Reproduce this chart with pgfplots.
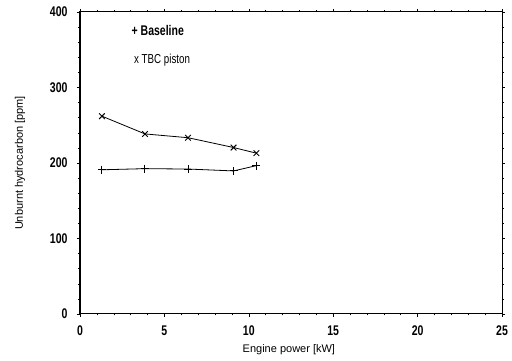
\documentclass[border=0pt]{standalone}
\usepackage{pgfplots}
\pgfplotsset{compat=1.18}
\usepackage{fontspec}
\setmainfont{Liberation Sans}
\newfontfamily\condfont[FakeStretch=0.75]{Liberation Sans}
\begin{document}
\begin{tikzpicture}
\begin{axis}[name=ax,
  scale only axis, width=422pt, height=302pt,
  xmin=0, xmax=25, ymin=0, ymax=400,
  xtick={0,5,10,15,20,25}, ytick={0,100,200,300,400},
  minor x tick num=4, minor y tick num=4,
  tick align=outside, major tick length=3pt, minor tick length=1.5pt,
  axis line style={line width=1pt},
  tick style={black, line width=0.5pt},
  /pgf/number format/assume math mode=true,
  ticklabel style={font=\condfont\fontsize{14}{15}\selectfont\bfseries},
  xticklabel style={yshift=-5pt},
  yticklabel style={xshift=-6pt},
  xlabel={Engine power [kW]}, ylabel={Unburnt hydrocarbon [ppm]},
  label style={font=\fontsize{11}{12}\selectfont},
  xlabel style={at={(axis description cs:0.495,-0.119)}, anchor=center},
  ylabel style={at={(axis description cs:-0.142,0.5)}, anchor=center},
]
\addplot[black, line width=0.8pt, mark=+, mark size=4pt, mark options={line width=1pt}]
  coordinates {(1.3,191) (3.85,192.5) (6.4,192) (9.1,189.5) (10.45,196.5)};
\addplot[black, line width=0.8pt, mark=x, mark size=4pt, mark options={line width=0.9pt}]
  coordinates {(1.3,262) (3.85,238.5) (6.4,233.5) (9.1,220.5) (10.45,213)};
\node[anchor=west, font=\condfont\fontsize{14}{15}\selectfont\bfseries] at (axis cs:2.85,376) {+ Baseline};
\node[anchor=west, font=\condfont\fontsize{13}{14}\selectfont] at (axis cs:3.0,336) {x TBC piston};
\end{axis}
\path[use as bounding box] ([xshift=-80pt,yshift=-46pt]ax.south west) rectangle ([xshift=10pt,yshift=12pt]ax.north east);
\end{tikzpicture}
\end{document}
